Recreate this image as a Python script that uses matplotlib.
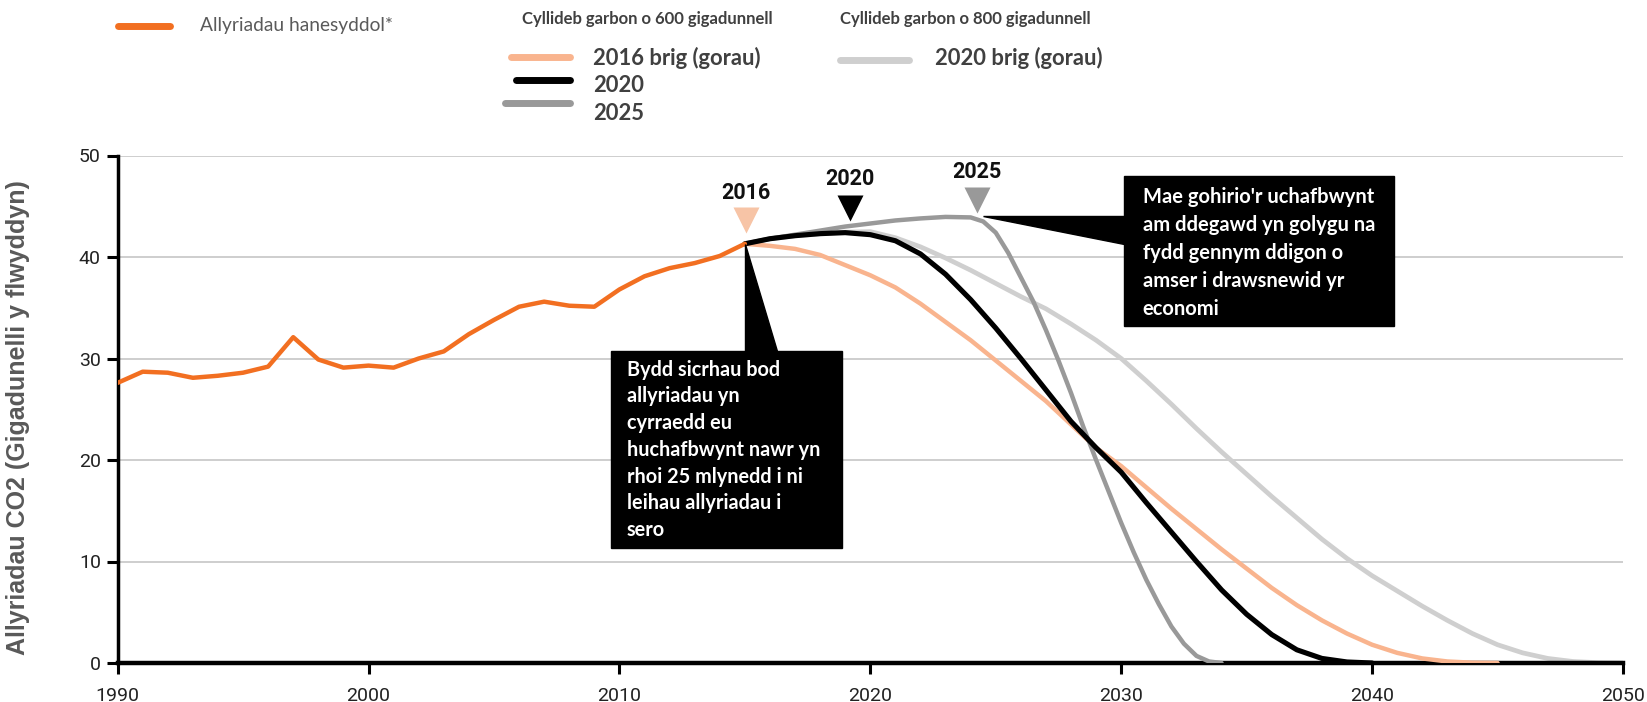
import matplotlib
matplotlib.use('Agg')
import matplotlib.pyplot as plt
from matplotlib.patches import Polygon, Rectangle
from matplotlib.lines import Line2D

# historic emissions (Gt CO2 / year)
hist_years = list(range(1990, 2016))
hist_vals = [27.6, 28.7, 28.6, 28.1, 28.3, 28.6, 29.2, 32.1, 29.9, 29.1,
             29.3, 29.1, 30.0, 30.7, 32.4, 33.8, 35.1, 35.6, 35.2, 35.1,
             36.8, 38.1, 38.9, 39.4, 40.1, 41.3]

# 600 Gt budget, peak 2016
p16_years = list(range(2015, 2046))
p16_vals = [41.3, 41.1, 40.8, 40.2, 39.2, 38.2, 37.0, 35.4, 33.6, 31.8,
            29.8, 27.8, 25.8, 23.5, 21.2, 19.4, 17.3, 15.2, 13.2, 11.2,
            9.3, 7.4, 5.7, 4.2, 2.9, 1.8, 1.0, 0.45, 0.15, 0.03, 0.0]

# 600 Gt budget, peak 2020
p20_years = list(range(2015, 2041))
p20_vals = [41.3, 41.8, 42.1, 42.3, 42.4, 42.2, 41.6, 40.3, 38.3, 35.8,
            33.0, 30.0, 26.9, 23.8, 21.2, 18.8, 15.8, 12.9, 10.0, 7.2,
            4.8, 2.8, 1.3, 0.45, 0.1, 0.0]

# 600 Gt budget, peak 2025
p25_years = [2015, 2016, 2017, 2018, 2019, 2020, 2021, 2022, 2023, 2024,
             2024.5, 2025, 2025.5, 2026, 2026.5, 2027, 2027.5, 2028, 2028.5, 2029,
             2029.5, 2030, 2030.5, 2031, 2031.5, 2032, 2032.5, 2033, 2033.5, 2034]
p25_vals = [41.3, 41.8, 42.2, 42.6, 43.0, 43.3, 43.6, 43.8, 43.95, 43.9,
            43.5, 42.4, 40.4, 38.0, 35.6, 32.8, 29.8, 26.6, 23.2, 20.0,
            16.9, 13.8, 10.9, 8.2, 5.8, 3.6, 1.9, 0.7, 0.15, 0.0]

# 800 Gt budget, peak 2020
b800_years = list(range(2015, 2051))
b800_vals = [41.3, 41.8, 42.1, 42.3, 42.45, 42.5, 41.9, 41.0, 39.9, 38.7,
             37.4, 36.1, 34.9, 33.4, 31.8, 30.0, 27.8, 25.5, 23.1, 20.8,
             18.6, 16.4, 14.3, 12.2, 10.3, 8.6, 7.1, 5.6, 4.2, 2.9,
             1.8, 1.0, 0.45, 0.15, 0.03, 0.0]

x_ticks = [1990, 2000, 2010, 2020, 2030, 2040, 2050]
y_ticks = [0, 10, 20, 30, 40, 50]

C_HIST = '#F26F21'
C_P16 = '#F9B48E'
C_P20 = '#000000'
C_P25 = '#999999'
C_800 = '#CFCFCF'

W, H = 1647, 702


def fx(x):
    return x / W


def fy(y):
    return 1 - y / H


fig = plt.figure(figsize=(W / 100, H / 100), dpi=100)
ax = fig.add_axes([fx(117.6), fy(663), fx(1623) - fx(117.6), fy(155.5) - fy(663)])

ax.plot(b800_years, b800_vals, color=C_800, lw=3.4, solid_capstyle='round', zorder=2)
ax.plot(p16_years, p16_vals, color=C_P16, lw=3.2, solid_capstyle='round', zorder=3)
ax.plot(p25_years, p25_vals, color=C_P25, lw=3.2, solid_capstyle='round', zorder=4)
ax.plot(p20_years, p20_vals, color=C_P20, lw=3.7, solid_capstyle='round', zorder=5)
ax.plot(hist_years, hist_vals, color=C_HIST, lw=3.2, solid_capstyle='round', zorder=6)

ax.set_xlim(1990, 2050)
ax.set_ylim(0, 50)
ax.set_xticks(x_ticks)
ax.set_yticks(y_ticks)
ax.grid(axis='y', color='#c6c6c6', lw=1.2)
ax.set_axisbelow(True)
for s in ['top', 'right']:
    ax.spines[s].set_visible(False)
ax.spines['left'].set_linewidth(2.5)
ax.spines['bottom'].set_linewidth(3.2)
ax.tick_params(axis='both', length=8, width=2.2, color='black', labelsize=14, labelcolor='#222222')
ax.tick_params(axis='y', pad=4)
ax.tick_params(axis='x', pad=9)
for lab in ax.get_xticklabels() + ax.get_yticklabels():
    lab.set_family('Roboto')

fig.text(fx(18), fy(418), 'Allyriadau CO2 (Gigadunelli y flwyddyn)', rotation=90,
         ha='center', va='center', fontsize=18, fontweight='bold', color='#595959',
         family='Liberation Sans')

# peak markers
peaks = [(2015.05, 43.6, 46.3, '2016', '#F7C4A6'),
         (2019.2, 44.8, 47.7, '2020', '#000000'),
         (2024.25, 45.6, 48.4, '2025', '#999999')]
for px, my, ty, lab, col in peaks:
    ax.plot([px], [my], marker='v', ms=19, color=col, mec='none', clip_on=False, zorder=7)
    ax.text(px, ty, lab, ha='center', va='center', fontsize=15.5, fontweight='bold',
            family='Roboto', color='#111111', zorder=7)

# callout 1
ax.add_patch(Polygon([(hist_years[-1], hist_vals[-1]), (hist_years[-1], 30.74), (2016.3, 30.74)],
                     closed=True, color='black', zorder=8, clip_on=False))
ax.add_patch(Rectangle((2009.67, 11.33), 2018.87 - 2009.67, 30.74 - 11.33,
                       color='black', zorder=8, clip_on=False))
ax.text(2010.3, 21.0,
        'Bydd sicrhau bod\nallyriadau yn\ncyrraedd eu\nhuchafbwynt nawr yn\nrhoi 25 mlynedd i ni\nleihau allyriadau i\nsero',
        ha='left', va='center', color='white', fontsize=14.3, fontweight='bold',
        family='Lato', linespacing=1.42, zorder=9)

# callout 2
ax.add_patch(Polygon([(2024.5, 44.0), (2030.11, 44.0), (2030.11, 41.3)],
                     closed=True, color='black', zorder=8, clip_on=False))
ax.add_patch(Rectangle((2030.11, 33.2), 2040.87 - 2030.11, 47.98 - 33.2,
                       color='black', zorder=8, clip_on=False))
ax.text(2030.85, 40.4,
        "Mae gohirio'r uchafbwynt\nam ddegawd yn golygu na\nfydd gennym ddigon o\namser i drawsnewid yr\neconomi",
        ha='left', va='center', color='white', fontsize=14.5, fontweight='bold',
        family='Lato', linespacing=1.5, zorder=9)

# legend
fig.add_artist(Line2D([fx(118), fx(170)], [fy(26), fy(26)], color=C_HIST, lw=5, solid_capstyle='round'))
fig.text(fx(200), fy(25), 'Allyriadau hanesyddol*', ha='left', va='center', fontsize=13.8,
         color='#5a5a5a', family='Lato')

fig.text(fx(522), fy(19), 'Cyllideb garbon o 600 gigadunnell', ha='left', va='center',
         fontsize=12, fontweight='bold', color='#404040', family='Lato')
fig.text(fx(840), fy(19), 'Cyllideb garbon o 800 gigadunnell', ha='left', va='center',
         fontsize=12, fontweight='bold', color='#404040', family='Lato')

leg = [(511, 570, 57, C_P16, '2016 brig (gorau)', 593, 58),
       (516, 570, 80, C_P20, '2020', 593, 86),
       (505, 570, 103, C_P25, '2025', 593, 113),
       (840, 909, 60, C_800, '2020 brig (gorau)', 935, 58)]
for x0, x1, ly, col, lab, tx, ty in leg:
    fig.add_artist(Line2D([fx(x0), fx(x1)], [fy(ly), fy(ly)], color=col, lw=5, solid_capstyle='round'))
    fig.text(fx(tx), fy(ty), lab, ha='left', va='center', fontsize=15.8, fontweight='bold',
             color='#404040', family='Lato')

fig.savefig('out.png', dpi=100)
